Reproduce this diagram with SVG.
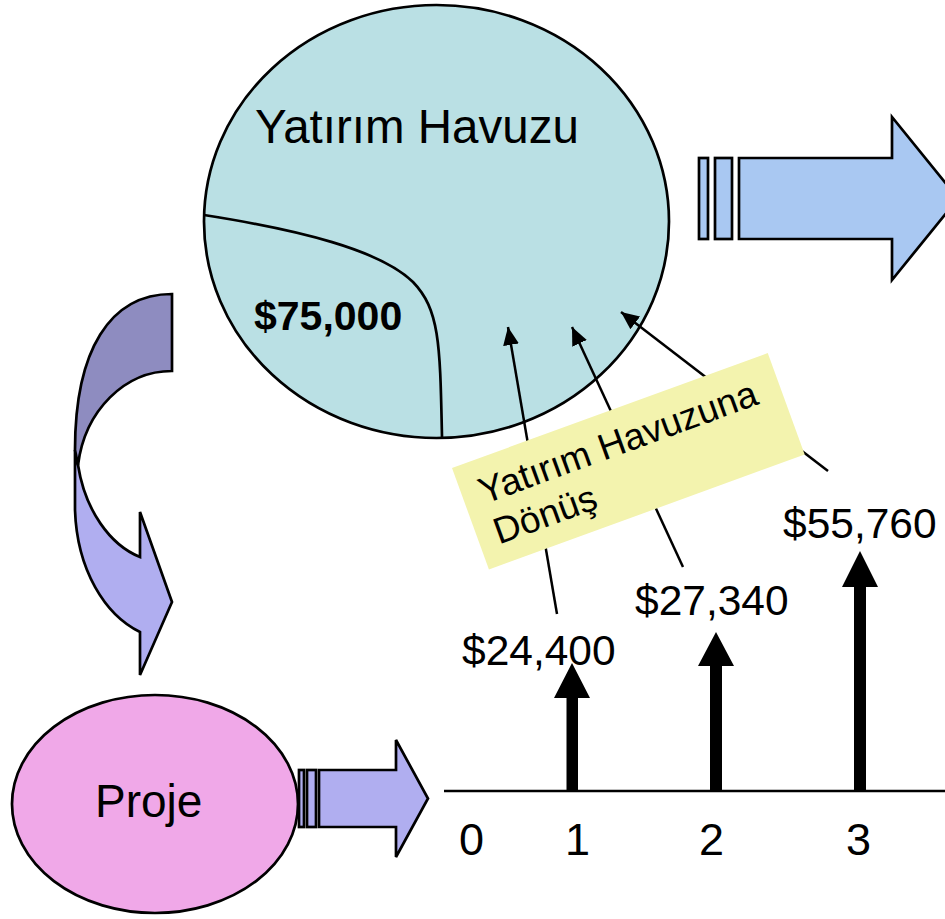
<svg xmlns="http://www.w3.org/2000/svg" width="945" height="919" viewBox="0 0 945 919">
<style>
  .t { font-family: "Liberation Sans", Arial, sans-serif; fill: #000; }
  .ol { stroke: #000; stroke-width: 2.7; stroke-linejoin: miter; }
  .thin { stroke: #000; stroke-width: 2.5; fill: none; marker-end: url(#ah); }
  .blk { fill: #000; stroke: none; }
</style>
<defs>
  <marker id="ah" markerUnits="userSpaceOnUse" markerWidth="20" markerHeight="20" viewBox="0 0 20 20" refX="18" refY="10" orient="auto">
    <path d="M0,2 L18,10 L0,18 Z" fill="#000"/>
  </marker>
</defs>
<rect width="945" height="919" fill="#fff"/>

<g id="arrow-out">
  <rect class="ol" x="699" y="158" width="9" height="81" fill="#A9C8F2"/>
  <rect class="ol" x="715" y="158" width="17" height="81" fill="#A9C8F2"/>
  <path class="ol" d="M739,158 L892,158 L892,117 L958,198.5 L892,280 L892,239 L739,239 Z" fill="#A9C8F2"/>
</g>

<g id="pool">
  <ellipse class="ol" cx="436.5" cy="221.5" rx="232.5" ry="216.5" fill="#BAE0E4"/>
  <path class="ol" d="M204,215 C300,230 380,250 413,282 C440,310 440,345 442,437" fill="none"/>
  <text class="t" x="255" y="143" font-size="47.5">Yatırım Havuzu</text>
  <text class="t" x="254" y="330" font-size="41" font-weight="bold">$75,000</text>
</g>

<g id="curved-arrow">
  <path class="ol" d="M75,450 L75,510 C77,570 105,615 140,632 L140,675 L172,602 L140,512 L140,557 C110,545 85,510 78,465 Z" fill="#B0AEF0"/>
  <path class="ol" d="M172,294 C110,294 75,350 75,450 L78,465 C85,410 125,371 172,371 Z" fill="#8E8CC0"/>
</g>

<g id="proje">
  <ellipse class="ol" cx="155" cy="804" rx="143" ry="109" fill="#F0A8E8"/>
  <text class="t" x="95" y="817" font-size="46">Proje</text>
</g>

<g id="arrow-proje">
  <rect class="ol" x="299" y="770" width="5" height="57" fill="#B0AEF0"/>
  <rect class="ol" x="307" y="770" width="9" height="57" fill="#B0AEF0"/>
  <path class="ol" d="M319,770 L396,770 L396,740 L428,798.5 L396,857 L396,827 L319,827 Z" fill="#B0AEF0"/>
</g>

<g id="timeline">
  <line x1="444" y1="791" x2="945" y2="791" stroke="#000" stroke-width="2.5"/>
  <path class="blk" d="M566.5,791 L578,791 L578,698 L590,698 L572,663 L554,698 L566.5,698 Z"/>
  <path class="blk" d="M710,791 L722,791 L722,666 L734,666 L716,632 L698,666 L710,666 Z"/>
  <path class="blk" d="M854,791 L866,791 L866,587 L878,587 L860,551 L842,587 L854,587 Z"/>
  <text class="t" x="459" y="855" font-size="45">0</text>
  <text class="t" x="565" y="855" font-size="45">1</text>
  <text class="t" x="699" y="855" font-size="45">2</text>
  <text class="t" x="846" y="855" font-size="45">3</text>
  <text class="t" x="462" y="665" font-size="42.5">$24,400</text>
  <text class="t" x="635" y="615" font-size="42.5">$27,340</text>
  <text class="t" x="783" y="538" font-size="42.5">$55,760</text>
</g>

<g id="connectors">
  <line class="thin" x1="557" y1="614" x2="508" y2="327"/>
  <line class="thin" x1="683" y1="567" x2="572" y2="327"/>
  <line class="thin" x1="828" y1="471" x2="621" y2="312"/>
</g>

<g id="label-box" transform="translate(452,468) rotate(-20)">
  <rect x="0" y="0" width="336" height="108" fill="#F3F3AE"/>
  <text class="t" x="18" y="45" font-size="37">Yatırım Havuzuna</text>
  <text class="t" x="18" y="88" font-size="37">Dönüş</text>
</g>
</svg>
